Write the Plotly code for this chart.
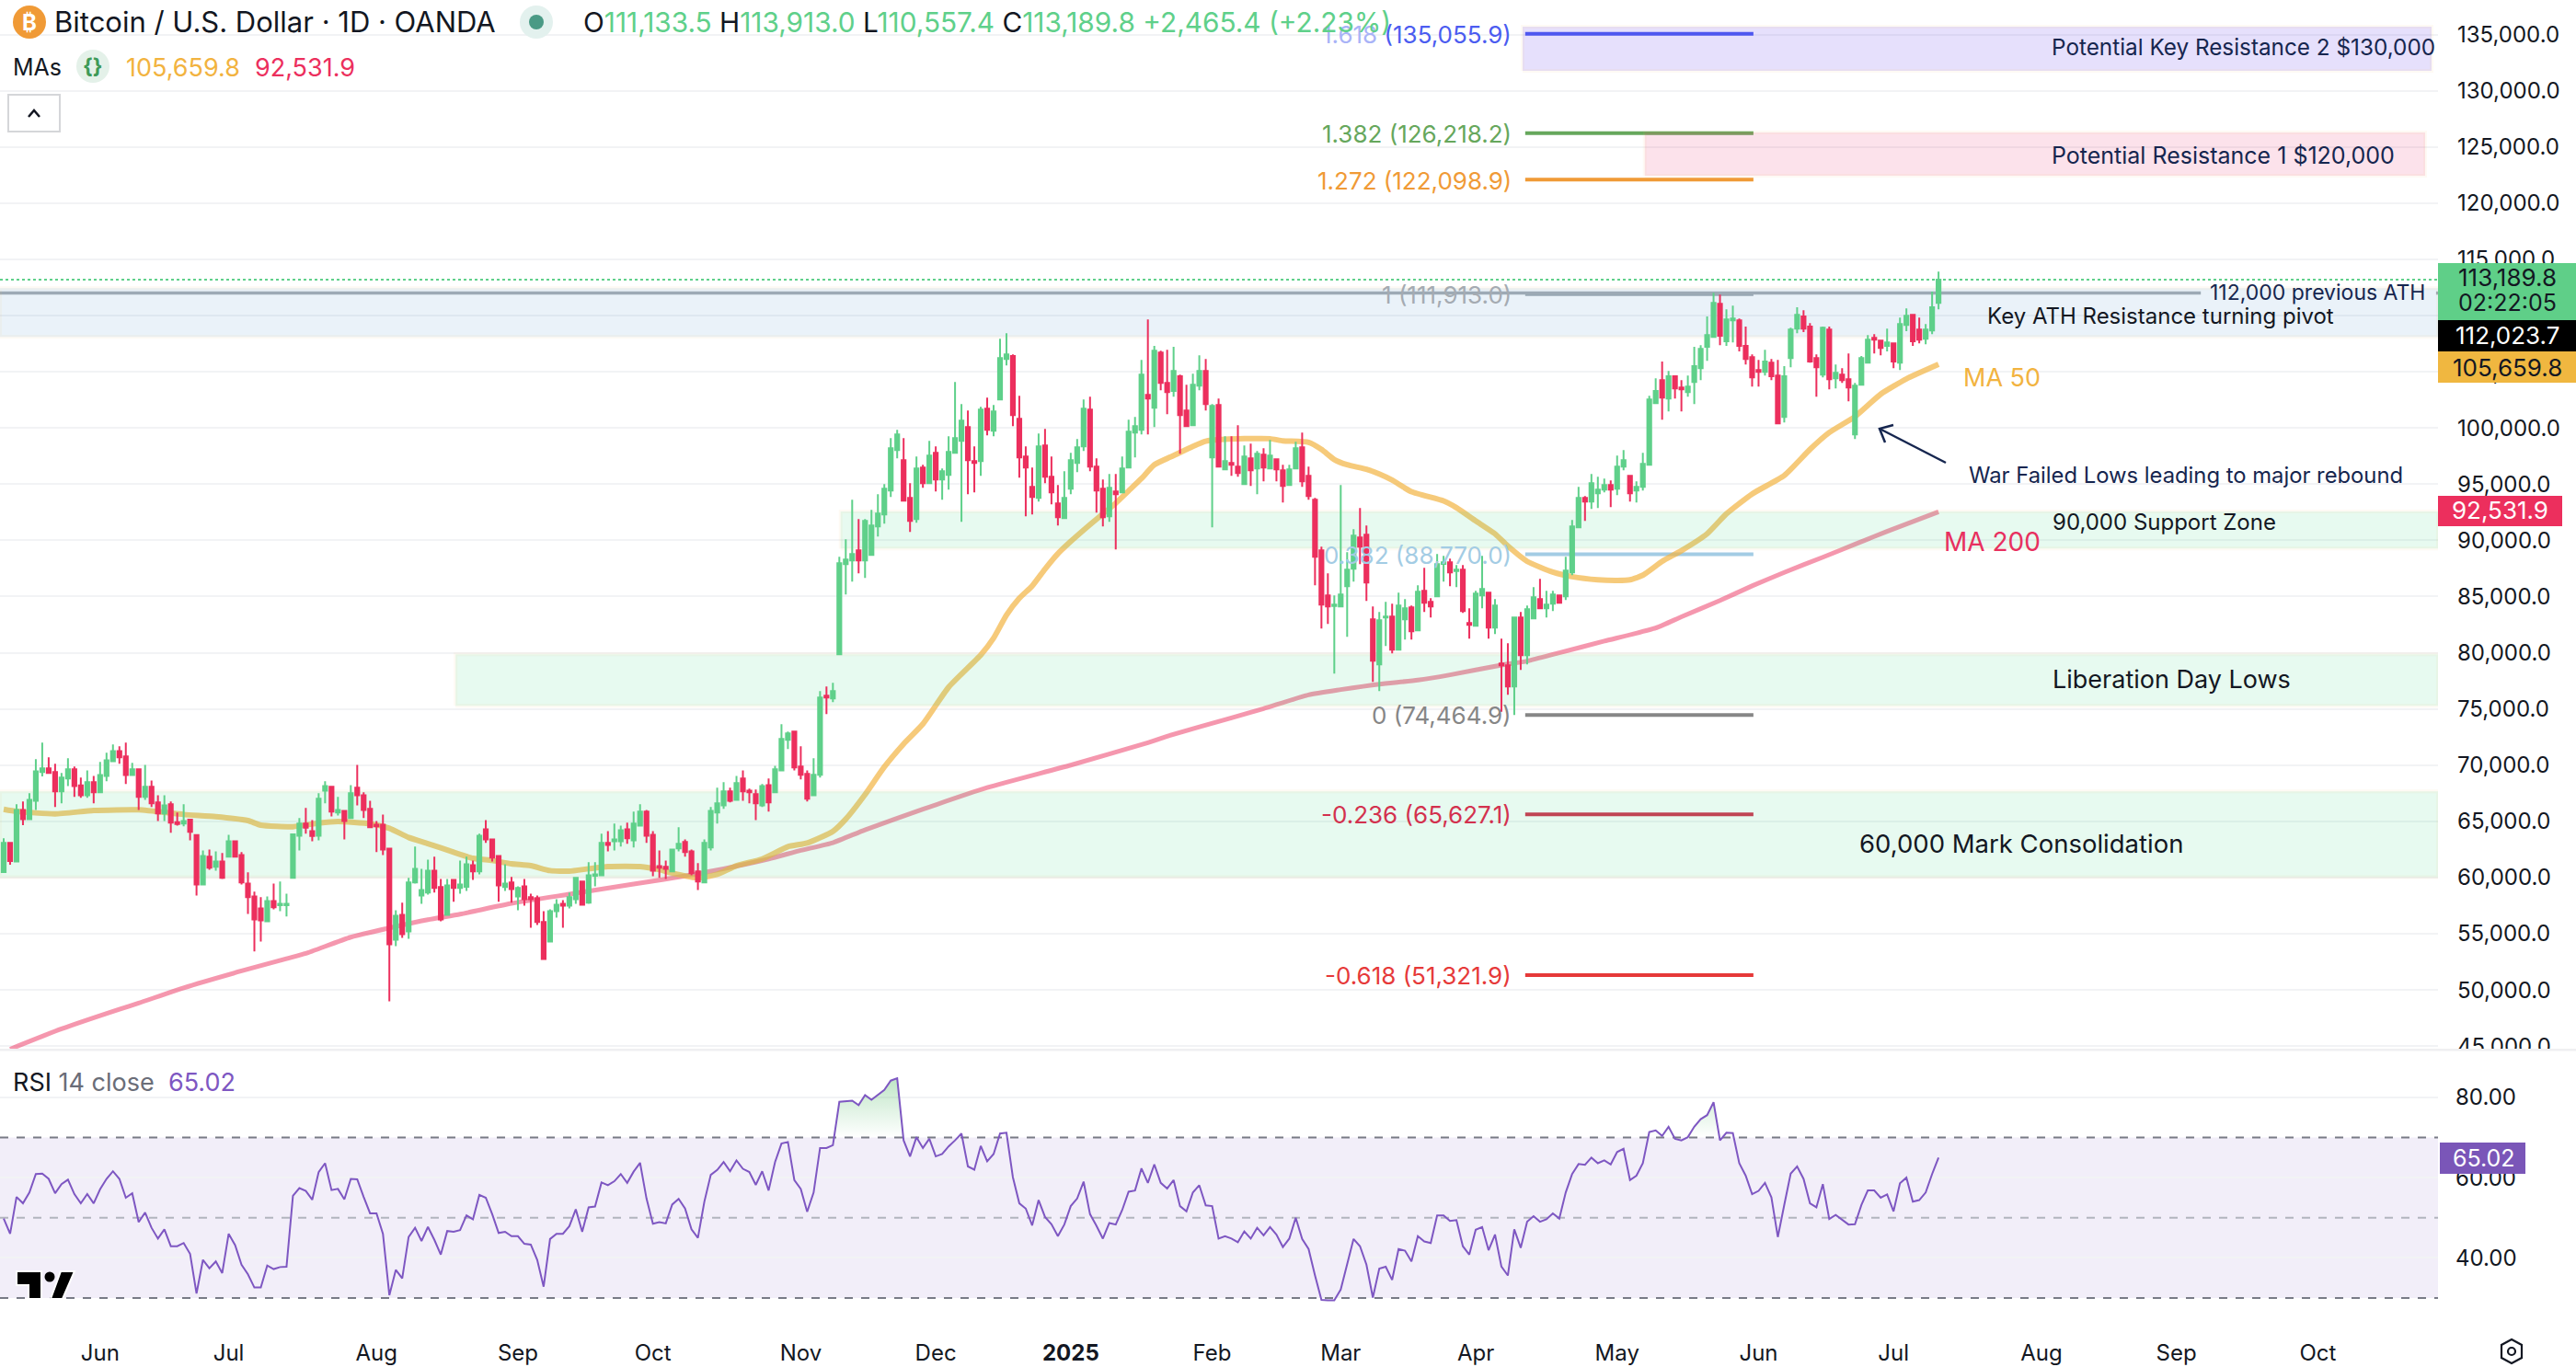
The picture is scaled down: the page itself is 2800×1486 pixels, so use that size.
import numpy as np
import plotly.graph_objects as go

# ---------- candles (one per trading session, index 0 = first session on screen) ----------
opens = [
60480,63080,61440,66020,65200,66840,69380,69710,69380,67660,
68810,69630,68210,67330,68480,67580,69050,70360,71260,70770,
69130,69630,67170,68070,66680,65700,66520,64930,64800,65150,
63790,59390,61850,60950,61440,61850,63240,62010,59470,58330,
57260,56120,57920,57540,57540,59970,63730,64800,64140,63730,
67740,68070,65780,65940,65290,67990,67330,66110,64710,64710,
62580,54480,56690,55220,59560,58410,58660,60620,59150,56690,
59800,59070,59170,61110,60540,64300,63400,61930,59150,59560,
58330,59230,58250,58160,56040,54320,57020,57670,57510,58080,
59640,57760,60160,60210,63080,63240,63240,64300,63320,64630,
65860,63810,61030,60950,60540,62590,63160,62340,60540,59560,
62670,65780,66430,67660,66920,68810,67740,67420,66430,68230,
67580,69540,72250,72980,69870,69220,67330,69140,76180,75930,
79860,87880,88210,89110,88210,88700,91240,92300,94430,98040,
97130,93780,91900,96480,95090,97790,95420,95830,97790,98850,
100080,97050,97050,101720,99750,102540,106140,106390,100820,97460,
94760,93780,98440,95660,93290,91980,94600,96890,98360,101640,
96560,94600,92140,94350,94270,96480,99590,99840,102950,101800,
106710,104010,103280,104590,101560,100250,103770,105080,97380,102050,
96320,96890,96560,95010,97300,96400,97630,96400,97220,96230,
94920,96400,98280,95740,93610,89110,85100,84170,84120,85920,
87470,90260,90500,82970,78960,83140,83220,80270,82970,84040,
81990,85510,84530,85020,87910,88050,87280,87390,82640,82400,
85100,85350,82230,79040,78880,77000,83140,79780,83050,84770,
83950,84360,85100,85020,87150,91160,93780,93450,94190,94520,
94920,94600,96560,95740,94430,94760,96730,102210,104260,102620,
104590,103600,103190,104090,105320,107210,108100,111050,107700,109580,
109580,107290,106300,105160,104990,105810,104670,100980,106220,108840,
109910,109010,106220,104750,108760,104420,104750,104340,99430,103850,
105810,108020,107780,107290,107530,105810,109170,110070,108760,107940,
108680,111133.5]
closes = [
63080,61470,66020,65200,66920,69460,69710,69300,67660,68890,
69630,68150,67330,68480,67580,69130,70440,71260,70690,69130,
69630,67170,68070,66600,65700,66430,64880,64770,65040,64060,
59390,61930,60870,61440,59970,63240,61850,59560,58250,56280,
56200,57920,57350,57670,57670,63840,64800,64440,63700,67010,
68150,65860,66020,65040,67500,67330,66020,64470,64550,62500,
54070,56610,54970,59560,60780,58900,60620,59070,56280,59310,
59070,59390,61190,60540,63730,63400,61770,59310,59470,58980,
59070,58080,58080,56040,52760,57020,57590,57510,58250,59970,
57590,60210,60290,63080,62910,63400,64220,63490,64800,65860,
63730,60620,60870,60780,62500,63000,62260,60380,59640,63080,
65940,66600,67660,66840,68400,67660,67580,66600,68150,66680,
69630,72330,72820,69790,69140,67010,69140,76010,76010,76590,
87970,88290,88780,88210,91730,91320,92390,94600,98200,99430,
93530,91730,96400,95090,97540,95420,96150,97870,99100,100660,
97130,96890,101640,99840,101470,106220,106550,101150,97380,96480,
93860,98360,95660,94270,92060,93780,97130,98280,101720,96560,
94430,92060,94680,94100,96400,99670,100160,104750,102620,106880,
104010,103190,105080,101150,100160,103850,105080,102130,101970,96560,
97050,96730,95990,97460,96230,97710,96480,97540,96320,94840,
96320,98200,95250,93940,88540,84280,84120,84280,85180,87390,
90420,89440,86250,79290,82890,83220,80270,84200,83950,81910,
85430,84450,84120,87880,88050,87150,87390,83710,82480,85260,
85670,82230,84200,78880,77000,83140,79780,83870,84940,83950,
84280,85180,84450,87310,91240,93780,93450,95090,94520,94920,
94520,96560,97130,94190,94760,96810,102540,103280,102700,104590,
103520,103440,103680,105490,107040,108270,111130,108190,109660,109740,
107290,106140,104500,104990,105900,104590,100410,104590,108760,110070,
108840,105900,105400,108920,104340,104910,104260,103600,103770,106220,
107860,107860,107120,107610,105900,109250,109990,107700,107860,108760,
110730,113189.8]
highs = [
63490,63160,66520,66760,67500,70530,72000,70690,70120,69300,
70610,69870,68890,69540,69050,70280,71100,71840,71670,72000,
70200,69710,70030,68640,67330,67330,66760,65780,66520,65200,
63810,62420,62500,62340,62180,63810,63240,62260,60460,58740,
58250,58330,59470,59640,58570,63900,65290,66190,65120,67500,
68560,68070,67170,66020,68230,70030,67580,66840,65040,65610,
62580,57100,57760,59970,62750,60780,61600,61850,59880,59880,
59880,61520,61850,61520,63900,65120,63400,62010,61190,60050,
59230,59880,58570,58410,57020,57180,58080,58000,58660,60050,
59720,61360,61360,63900,64140,64800,64630,64880,65860,66520,
66020,64140,62420,61520,62500,64470,63400,62500,61280,63400,
66270,67990,68480,67990,69050,69540,67910,67830,68320,68810,
69950,73640,72980,72980,71670,69540,70610,76590,76990,77320,
88540,90090,93610,91900,91900,92710,94110,95010,99100,99840,
99100,95090,97460,96730,98850,98360,96400,99260,104090,102130,
101560,98360,101880,102700,102050,107940,108430,106550,102870,98360,
96480,99510,99920,97460,94920,96150,97790,99020,102540,102780,
97300,95420,95910,95910,97460,100740,100980,106060,109660,107290,
106880,106960,107210,104750,103850,104830,106470,106140,102130,102620,
99260,99260,100250,98440,98610,97950,98200,98940,97300,96730,
96730,98770,99590,96560,93780,89440,87060,85100,94920,88950,
91000,92880,91320,84120,83630,84530,84360,85350,84770,84200,
86000,87560,84850,88780,88620,88380,87800,87800,83950,85510,
88620,85350,84770,81250,80840,83220,83630,84200,85840,86570,
85510,85510,85180,88540,91810,94760,93940,95910,95660,95500,
95330,97540,98030,95830,95250,97790,102870,104420,105900,105080,
104670,104260,104670,107210,107370,109910,112030,111870,110560,110890,
109740,109010,106550,106060,106960,106140,106060,105490,108920,110730,
110480,109330,106550,109010,109010,105650,105320,106630,104010,106390,
108270,108350,107860,108840,107610,109820,110640,110150,109820,109250,
112120,113913.0]
lows = [
60480,61140,61380,64660,65120,66020,69000,69240,66270,66600,
68150,67170,67090,67090,66600,67580,68560,70360,70120,68320,
69130,66020,66920,66270,65040,65040,63980,64630,64550,63320,
58410,59390,60700,60620,59880,61770,61770,59390,56770,53420,
54320,56120,57180,57020,56530,59970,62420,63900,63240,63320,
66600,65450,65530,63400,65290,66430,65290,64470,62260,62010,
49000,53910,54640,54560,59470,57670,58490,58660,56120,56690,
57840,58570,58820,59800,60290,63080,61440,57840,58820,57760,
57100,57510,55540,55790,52680,54320,56440,55540,57260,57670,
57510,57670,59230,60210,62340,62420,62750,63000,62670,64630,
63080,60130,59970,59880,60460,62340,61850,60210,58900,59560,
62420,64800,66110,66680,66920,66840,66600,65120,66270,65860,
67580,69540,71430,69540,68730,66760,67330,68890,74540,75600,
79860,85180,86330,87060,86660,88700,90340,91490,93860,97300,
93530,90750,91570,94680,95090,94350,93610,94520,97790,91650,
94100,94270,95740,99350,99260,102540,105570,100160,95580,92140,
92300,93450,95090,93200,91320,91900,94110,96070,97950,96150,
92470,91240,91650,89190,94190,96400,97380,99430,99430,100080,
103360,101230,102780,97710,100160,100250,103360,101560,91160,96480,
96230,95740,95660,94920,94840,94110,95250,96320,95250,93370,
94840,96320,94760,93610,86000,82150,82560,78140,84120,81420,
86330,87880,84610,77400,76590,80600,79940,80270,81170,81170,
81910,83630,83140,84940,86330,85920,85840,83540,81250,82320,
83950,81250,81660,74750,76260,74465,78470,78960,83050,83870,
83140,83710,84360,84690,86900,91160,91730,92800,92880,94270,
92960,94020,96230,93450,93370,94430,96730,102130,100740,101470,
102620,101470,102780,102130,104260,105980,108100,107370,107290,107610,
106800,105650,103680,103680,104670,104260,100410,100490,105400,108430,
108520,105810,102780,104500,103440,103520,104010,102370,99020,103770,
105810,106630,106470,106800,105320,105160,108600,107290,107530,107450,
108350,110557.4]
assert len(opens) == len(closes) == len(highs) == len(lows) == 302
sessions = list(range(len(opens)))

# ---------- moving averages read at selected sessions ----------
ma50_sessions = [0,2,8,14,21,28,33,38,40,45,49,52,57,60,63,66,70,73,76,79,82,85,88,91,94,99,102,104,108,111,114,118,122,125,129,
                 131,134,137,140,143,147,152,154,156,158,160,162,164,166,169,171,173,175,177,179,182,185,187,190,193,197,199,203,
                 205,207,209,212,214,216,219,224,226,229,232,234,237,241,244,248,251,253,255,258,261,265,268,272,277,281,284,288,292,296,301]
ma50_values = [66079,65887,65669,65969,66024,65614,65423,65069,64659,64523,64850,64987,64796,64386,63568,63022,62258,61712,61521,61221,
               61057,60620,60566,60784,60975,60975,60702,60402,59965,60293,61057,61657,62749,63076,64113,65205,67388,69844,71891,73665,
               76940,79805,81306,83353,84854,85946,87447,88811,89903,91404,92359,93314,94405,95497,96725,97544,98363,98826,98990,99045,
               99045,98854,98718,98090,97189,96725,96316,95907,95361,94324,93505,92905,91731,90585,89494,88129,87174,86765,86492,86437,
               86491,86901,88129,89084,90585,92359,94133,95770,98090,99591,101010,103002,104366,105659.8]
ma200_sessions = [1,9,18,21,28,37,44,47,54,60,66,71,79,88,98,107,112,119,124,129,134,143,153,166,178,181,191,196,203,208,214,220,225,233,
                  237,242,249,257,261,267,272,277,283,288,293,301]
ma200_values = [44737,46538,48283,48831,50196,51696,52788,53252,54698,55517,56254,56745,57700,58519,59420,60238,60784,61657,62422,63104,
                64250,66078,68000,70000,72000,72574,74211,75030,76258,76722,77212,77568,78032,78905,79260,79997,81034,82200,83200,84650,
                85950,87150,88500,89650,90800,92531.9]

# ---------- RSI ----------
rsi_values = [
49.8,46.0,55.2,53.6,56.3,60.9,61.0,59.7,56.1,58.4,59.5,55.9,53.6,55.9,53.6,57.1,59.7,61.6,59.7,55.0,
56.1,48.9,51.3,47.5,44.8,47.1,42.9,42.9,43.7,41.0,31.1,39.5,37.4,39.1,36.2,46.0,43.2,38.3,35.9,32.6,
32.6,38.1,37.2,37.7,37.8,55.5,57.4,56.7,54.5,61.4,63.6,56.9,57.2,54.6,59.7,59.6,55.2,51.1,51.1,46.0,
30.7,37.0,34.9,45.2,47.5,44.2,47.7,44.5,40.8,46.7,46.5,46.9,50.6,49.6,55.7,55.0,50.9,46.2,46.5,45.4,
45.4,43.5,43.3,39.5,32.8,44.7,46.0,46.0,47.9,52.1,46.5,52.6,52.8,58.8,58.1,59.1,60.9,58.7,61.5,63.7,
54.8,48.5,48.9,48.6,53.3,54.7,52.3,47.1,45.0,54.0,60.7,61.9,63.9,61.6,64.3,62.2,61.4,58.2,61.6,56.8,
63.9,68.5,68.9,59.4,57.2,51.5,56.3,67.4,67.4,68.1,78.9,79.1,79.2,78.1,80.6,79.4,80.6,81.9,84.2,84.8,
69.3,65.3,70.1,67.4,69.7,65.3,65.9,67.8,69.3,71.0,62.8,62.0,67.9,64.1,65.9,71.0,71.2,60.1,53.6,52.3,
48.1,54.4,50.2,48.4,45.4,48.3,52.9,54.8,59.0,50.9,48.0,44.8,48.7,48.3,51.9,56.5,56.8,62.3,58.7,63.3,
58.7,57.3,59.4,52.9,51.6,56.3,58.1,53.1,52.9,44.8,45.4,44.8,43.9,46.6,44.8,47.5,45.6,47.7,45.8,42.7,
44.8,50.0,44.7,42.2,35.6,29.5,29.4,29.4,32.1,38.7,44.7,42.9,38.3,30.1,37.3,37.8,34.5,42.2,41.8,39.1,
45.4,44.1,43.7,50.6,50.6,49.2,49.4,42.9,40.8,47.0,47.7,41.9,45.8,37.8,35.6,47.1,42.5,49.0,50.4,49.0,
49.6,51.1,49.8,56.3,60.9,63.4,63.2,65.0,63.6,64.3,63.3,66.4,67.2,59.4,60.5,63.6,71.4,71.8,70.4,72.7,
69.7,69.3,70.1,72.7,74.6,75.6,78.8,69.3,71.2,71.1,63.6,60.5,55.9,56.7,58.7,55.1,45.2,53.2,61.0,62.8,
59.7,53.6,52.6,58.4,49.7,50.7,49.4,48.3,48.4,53.2,56.8,56.8,55.0,55.8,51.6,58.6,60.0,54.0,54.4,56.3,
60.9,65.02]
assert len(rsi_values) == 302

# ---------- axes ----------
price_ticks = list(range(45000, 135001, 5000))
rsi_ticks = [40, 60, 80]
month_positions = [15, 35, 58, 80, 101, 124, 145, 166, 188, 208, 229, 251, 273, 294, 317, 338, 360]
month_labels = ["Jun", "Jul", "Aug", "Sep", "Oct", "Nov", "Dec", "<b>2025</b>", "Feb", "Mar", "Apr", "May", "Jun", "Jul", "Aug", "Sep", "Oct"]
SESSION_LO, SESSION_HI = -0.5725, 378.7
PRICE_LO, PRICE_HI = 44653, 138071
RSI_LO, RSI_HI = 24.25, 91.7

# ---------- zones ----------
zone_x0 = [SESSION_LO, 236.3, 255.3, 130.2, 70.3, SESSION_LO]
zone_x1 = [SESSION_HI, 377.7, 376.7, SESSION_HI, SESSION_HI, SESSION_HI]
zone_lo = [108105, 131767, 122433, 89275, 75274, 60045]
zone_hi = [112445, 135696, 126281, 92574, 79860, 67660]
zone_fill = ["rgba(66,133,200,0.11)", "rgba(100,60,235,0.16)", "rgba(233,30,99,0.13)",
             "rgba(60,210,130,0.12)", "rgba(60,210,130,0.12)", "rgba(60,210,130,0.12)"]

# ---------- fibonacci ----------
fib_levels = [135055.9, 126218.2, 122098.9, 111913.0, 88770.0, 74464.9, 65627.1, 51321.9]
fib_ratios = ["1.618", "1.382", "1.272", "1", "0.382", "0", "-0.236", "-0.618"]
fib_colors = ["#4B5CF0", "#66A75C", "#F09A36", "#A5ABB2", "#A3CCE4", "#868686", "#D3314E", "#E63939"]
fib_x0, fib_x1 = 236.7, 272.2

ath_level = 112000
last_price = 113189.8

GREEN, RED = "#5FD08A", "#EC2F5D"
INK, NAVY = "#131722", "#16264F"
GRID = "#F2F3F5"
FONT = "Inter"
W, H = 2650.0, 1436.0
px = lambda v: v / W
py = lambda v: 1 - v / H

fig = go.Figure()

# fibonacci and reference lines
for lv, col in zip(fib_levels, fib_colors):
    fig.add_trace(go.Scatter(x=[fib_x0, fib_x1], y=[lv, lv], mode="lines", line=dict(color=col, width=4), xaxis="x", yaxis="y"))
fig.add_trace(go.Scatter(x=[SESSION_LO, 341.8, None, 378.4, SESSION_HI], y=[ath_level] * 2 + [None] + [ath_level] * 2,
                         mode="lines", line=dict(color="#A9AFB3", width=3.5), xaxis="x", yaxis="y"))
fig.add_trace(go.Scatter(x=[SESSION_LO, SESSION_HI], y=[last_price, last_price], mode="lines",
                         line=dict(color=GREEN, width=2, dash="3px,3px"), xaxis="x", yaxis="y"))

# moving averages
fig.add_trace(go.Scatter(x=ma200_sessions, y=ma200_values, mode="lines", line=dict(color="rgba(236,47,93,0.5)", width=5, shape="spline", smoothing=0.5), xaxis="x", yaxis="y"))
fig.add_trace(go.Scatter(x=ma50_sessions, y=ma50_values, mode="lines", line=dict(color="rgba(242,179,66,0.7)", width=6, shape="spline", smoothing=0.5), xaxis="x", yaxis="y"))

# zones sit over the averages, under the candles
for x0, x1, lo, hi, col in zip(zone_x0, zone_x1, zone_lo, zone_hi, zone_fill):
    fig.add_trace(go.Scatter(x=[x0, x1, x1, x0, x0], y=[lo, lo, hi, hi, lo], mode="lines", fill="toself", fillcolor=col,
                             line=dict(color="rgba(245,190,110,0.08)", width=4), xaxis="x", yaxis="y"))

# candles on an overlaid subplot so they draw on top
fig.add_trace(go.Candlestick(x=sessions, open=opens, high=highs, low=lows, close=closes, whiskerwidth=0,
                             increasing=dict(line=dict(color=GREEN, width=2), fillcolor=GREEN),
                             decreasing=dict(line=dict(color=RED, width=2), fillcolor=RED),
                             xaxis="x2", yaxis="y2"))

# RSI pane
rsi_arr = np.array(rsi_values)
fig.add_trace(go.Scatter(x=sessions, y=[70] * len(sessions), mode="lines", line=dict(width=0), xaxis="x3", yaxis="y3"))
fig.add_trace(go.Scatter(x=sessions, y=np.maximum(rsi_arr, 70), mode="lines", line=dict(width=0), fill="tonexty",
                         fillgradient=dict(type="vertical", start=70, stop=86,
                                           colorscale=[[0, "rgba(90,190,110,0)"], [1, "rgba(90,190,110,0.42)"]]),
                         xaxis="x3", yaxis="y3"))
fig.add_trace(go.Scatter(x=sessions, y=rsi_values, mode="lines", line=dict(color="#7E57C2", width=2), xaxis="x3", yaxis="y3"))

shapes = []
shapes.append(dict(type="rect", xref="x3", yref="y3", x0=SESSION_LO, x1=SESSION_HI, y0=30, y1=70, fillcolor="rgba(126,87,194,0.1)", line_width=0, layer="below"))
for lv, col in [(70, "#787B86"), (50, "#B2B5BE"), (30, "#787B86")]:
    shapes.append(dict(type="line", xref="x3", yref="y3", x0=SESSION_LO, x1=SESSION_HI, y0=lv, y1=lv, line=dict(color=col, width=2, dash="9px,9px"), layer="below"))

def prect(x0, y0, x1, y1, fill, line=None, lw=0):
    shapes.append(dict(type="rect", xref="paper", yref="paper", x0=px(x0), x1=px(x1), y0=py(y0), y1=py(y1), fillcolor=fill,
                       line=dict(color=line or fill, width=lw), layer="above"))

def pcircle(cx, cy, r, fill):
    shapes.append(dict(type="circle", xref="paper", yref="paper", x0=px(cx - r), x1=px(cx + r), y0=py(cy - r), y1=py(cy + r),
                       fillcolor=fill, line_width=0, layer="above"))

def ppath(points, color, lw=2, close=False, fill=None):
    d = "M" + " L".join(f"{px(a):.6f},{py(b):.6f}" for a, b in points) + (" Z" if close else "")
    s = dict(type="path", xref="paper", yref="paper", path=d, line=dict(color=color, width=lw), layer="above")
    if fill:
        s["fillcolor"] = fill
    shapes.append(s)

# separator and hidden label overflow
prect(2650, 1142, 2800, 1160, "white")
prect(0, 1140, 2800, 1142.5, "#EFEFF1")

# price tags
prect(2650, 286, 2800, 348, "#5FCF88")
prect(2650, 348, 2800, 382, "#000000")
prect(2650, 382, 2800, 416, "#F0B740")
prect(2650, 539, 2785, 572, RED)
prect(2652, 1242, 2745, 1276, "#7A56B8")

# header icons
pcircle(32, 24, 18, "#F09A36")
pcircle(583, 24, 18, "#E3F1EE")
pcircle(583, 24, 8, "#4A9A85")
pcircle(101, 72, 18, "#E4F1E9")
shapes.append(dict(type="rect", xref="paper", yref="paper", x0=px(9), x1=px(65), y0=py(103), y1=py(143), fillcolor="white",
                   line=dict(color="#D5D6D9", width=2), layer="above"))
ppath([(31, 127), (37, 120), (43, 127)], INK, 2.5)

# arrow
ppath([(2115, 503), (2043, 466)], NAVY, 2.5)
ppath([(2058, 462), (2043, 466), (2049, 481)], NAVY, 2.5)

# trading-view mark
ppath([(18, 1382), (45, 1382), (45, 1412), (31, 1412), (31, 1397), (18, 1397)], "white", 2, True, "#000000")
ppath([(66, 1382), (81, 1382), (68, 1412), (55, 1412)], "white", 2, True, "#000000")
pcircle(54, 1388, 5.5, "#000000")

# settings glyph
ppath([(2730, 1456), (2741, 1462), (2741, 1476), (2730, 1482), (2719, 1476), (2719, 1462)], INK, 2.2, True)
shapes.append(dict(type="circle", xref="paper", yref="paper", x0=px(2726), x1=px(2734), y0=py(1465), y1=py(1473),
                   line=dict(color=INK, width=2.2), layer="above"))

notes = []
def note(x, y, text, size=24, color=INK, anchor="left"):
    notes.append(dict(xref="paper", yref="paper", x=px(x), y=py(y), text=text, showarrow=False, xanchor=anchor, yanchor="middle",
                      font=dict(family=FONT, size=size, color=color), align=anchor, borderpad=0, borderwidth=0))

# fibonacci labels come first so the header prints over the top one
for lv, ratio, col in zip(fib_levels, fib_ratios, fib_colors):
    y_px = 465 - (lv - 100000) * 0.012214
    head = f'<span style="color:#A9B3F7">{ratio}</span>' if ratio == "1.618" else ratio
    note(1643, y_px + 1, f"{head} ({lv:,.1f})", 26, col, "right")

# header
note(32, 25, "<b>₿</b>", 24, "white", "center")
note(59, 24, "Bitcoin / U.S. Dollar · 1D · OANDA", 31)
g = lambda s: f'<span style="color:{GREEN}">{s}</span>'
note(634, 24, f"O{g('111,133.5')} H{g('113,913.0')} L{g('110,557.4')} C{g('113,189.8')} {g('+2,465.4 (+2.23%)')}", 29.8)
note(14, 73, "MAs", 25)
note(101, 72, "<b>{}</b>", 23, "#3E9A58", "center")
note(137, 73, "105,659.8", 27, "#F2B33F")
note(277, 73, "92,531.9", 27, RED)
note(14, 1176, f'RSI <span style="color:#6A6D78">14 close</span>  <span style="color:#7E57C2">65.02</span>', 27)

# chart labels
note(2402, 318, "112,000 previous ATH", 23, NAVY)
note(2160, 344, "Key ATH Resistance turning pivot", 24)
note(2140, 516, "War Failed Lows leading to major rebound", 23.8, NAVY)
note(2134, 410, "MA 50", 27, "#F2B33F")
note(2113, 589, "MA 200", 28, "#E8305F")
note(2231, 567, "90,000 Support Zone", 24)
note(2231, 738, "Liberation Day Lows", 27)
note(2021, 917, "60,000 Mark Consolidation", 27.5)
note(2230, 51, "Potential Key Resistance 2 $130,000", 24.3, NAVY)
note(2230, 169, "Potential Resistance 1 $120,000", 25, NAVY)

# tag texts
note(2725, 302, "113,189.8", 26, INK, "center")
note(2725, 329, "02:22:05", 25, INK, "center")
note(2725, 365, "112,023.7", 26, "white", "center")
note(2725, 399, "105,659.8", 26, INK, "center")
note(2717, 555, "92,531.9", 26, "white", "center")
note(2700, 1259, "65.02", 25, "white", "center")

axis_font = dict(family=FONT, size=24, color=INK)
fig.update_layout(
    width=2800, height=1486, margin=dict(l=0, r=150, t=0, b=50, autoexpand=False),
    paper_bgcolor="white", plot_bgcolor="white", showlegend=False, hovermode=False, boxgap=0.4, boxgroupgap=0,
    shapes=shapes, annotations=notes, font=dict(family=FONT),
    xaxis=dict(domain=[0, 1], range=[SESSION_LO, SESSION_HI], visible=False, anchor="y"),
    yaxis=dict(domain=[py(1141.5), 1], range=[PRICE_LO, PRICE_HI], side="right", anchor="x", tickvals=price_ticks,
               ticktext=[f"{t:,.1f}" for t in price_ticks], tickfont=axis_font, showline=False, ticks="", ticklabelstandoff=20,
               gridcolor=GRID, gridwidth=2, zeroline=False),
    xaxis2=dict(overlaying="x", range=[SESSION_LO, SESSION_HI], visible=False, anchor="y2", rangeslider=dict(visible=False)),
    yaxis2=dict(overlaying="y", range=[PRICE_LO, PRICE_HI], visible=False, anchor="x2", side="right"),
    xaxis3=dict(domain=[0, 1], range=[SESSION_LO, SESSION_HI], anchor="y3", tickvals=month_positions, ticktext=month_labels,
                tickfont=axis_font, showgrid=False, zeroline=False, showline=False, ticks="", ticklabelstandoff=18),
    yaxis3=dict(domain=[0, py(1142)], range=[RSI_LO, RSI_HI], side="right", anchor="x3", tickvals=rsi_ticks,
                ticktext=[f"{t:.2f}" for t in rsi_ticks], tickfont=axis_font, ticks="", showline=False, ticklabelstandoff=18,
                gridcolor=GRID, gridwidth=2, zeroline=False),
)

fig.write_html("out.html", config={"displayModeBar": False},
               post_script="document.body.style.margin='0';document.documentElement.style.overflow='hidden';")
